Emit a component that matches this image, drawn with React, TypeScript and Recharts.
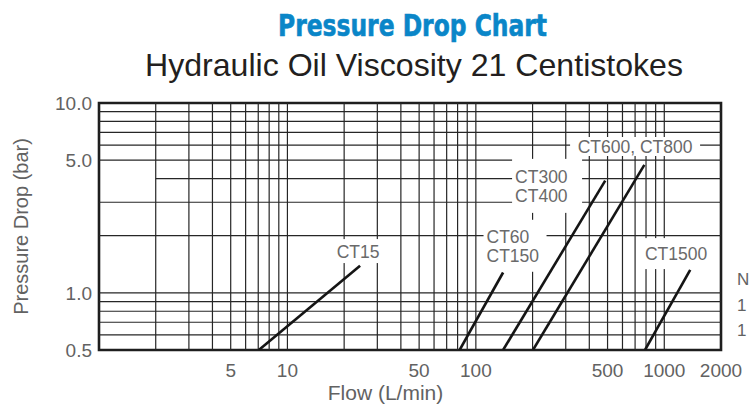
import React from 'react';
import { LineChart, Line, XAxis, YAxis, ReferenceLine, ReferenceArea, ReferenceDot } from 'recharts';

// ---- data ----
const xGridValues = [2, 3, 4, 5, 6, 7, 8, 9, 10, 20, 30, 40, 50, 60, 70, 80, 90, 100, 200, 300, 400, 500, 600, 700, 800, 900, 1000];
const yGridValues = [0.6, 0.7, 0.8, 0.9, 1, 2, 3, 5, 6, 7, 8, 9];
const yGridShortValues = [4]; // this grid line starts at a flow of 2
const xTickValues = [5, 10, 50, 100, 500, 1000, 2000];
const yTickValues = [0.5, 1, 5, 10];

const ct15 = [{ x: 7.05, y: 0.5 }, { x: 24.3, y: 1.39 }];
const ct60ct150 = [{ x: 82, y: 0.5 }, { x: 139.5, y: 1.28 }];
const ct300ct400 = [{ x: 139.5, y: 0.5 }, { x: 486, y: 3.9 }];
const ct600ct800 = [{ x: 201, y: 0.5 }, { x: 784, y: 4.72 }];
const ct1500 = [{ x: 790, y: 0.5 }, { x: 1373, y: 1.32 }];

const series = [
  { name: 'CT15', data: ct15 },
  { name: 'CT60, CT150', data: ct60ct150 },
  { name: 'CT300, CT400', data: ct300ct400 },
  { name: 'CT600, CT800', data: ct600ct800 },
  { name: 'CT1500', data: ct1500 },
];

const labelTexts = [['CT15'], ['CT60', 'CT150'], ['CT300', 'CT400'], ['CT600, CT800'], ['CT1500']];
// label anchors (data coordinates) and box sizes
const labelLayout = [
  { x: 23.7, y: 1.66, w: 46, h: 24, align: 'middle' },
  { x: 161.4, y: 1.77, w: 63, h: 52, align: 'start' },
  { x: 238.8, y: 3.66, w: 70, h: 54, align: 'start' },
  { x: 700, y: 5.9, w: 130, h: 19, align: 'middle' },
  { x: 1155, y: 1.61, w: 72, h: 31, align: 'middle' },
];

const FONT = '"Liberation Sans", Arial, Helvetica, sans-serif';
const GRID = '#262626';
const TEXT_GRAY = '#626262';
const LABEL_GRAY = '#6a6a6a';

function makeLabelShape(lines: string[], lay: any) {
  return (p: any) => {
    const cx = p.cx;
    const cy = p.cy;
    const left = cx - lay.w / 2;
    const top = cy - lay.h / 2;
    const n = lines.length;
    const baselines = n === 1 ? [cy + 6.5] : [cy - 3, cy + 16];
    return (
      <g>
        <rect x={left} y={top} width={lay.w} height={lay.h} fill="#ffffff" />
        {lines.map((t, i) => (
          <text
            key={i}
            x={lay.align === 'start' ? left + 3 : cx}
            y={baselines[i]}
            textAnchor={lay.align === 'start' ? 'start' : 'middle'}
            fontSize={17.5}
            fontFamily={FONT}
            fill={LABEL_GRAY}
          >
            {t}
          </text>
        ))}
      </g>
    );
  };
}

export default function App() {
  return (
    <div style={{ position: 'fixed', left: 0, top: 0, width: 749, height: 414, background: '#fff', overflow: 'hidden' }}>
      <LineChart
        width={749}
        height={414}
        margin={{ top: 103, right: 28, bottom: 34, left: 39 }}
      >
        <XAxis
          dataKey="x"
          type="number"
          scale="log"
          domain={[1, 2000]}
          allowDataOverflow
          ticks={xTickValues}
          height={30}
          axisLine={false}
          tickLine={false}
          tickSize={0}
          tickMargin={13.5}
          interval={0}
          tick={{ fontSize: 19, fill: TEXT_GRAY, fontFamily: FONT }}
        />
        <YAxis
          dataKey="y"
          type="number"
          scale="log"
          domain={[0.5, 10]}
          allowDataOverflow
          ticks={yTickValues}
          width={60}
          axisLine={false}
          tickLine={false}
          tickSize={0}
          tickMargin={7}
          interval={0}
          tickFormatter={(v: number) => v.toFixed(1)}
          tick={{ fontSize: 19, fill: TEXT_GRAY, fontFamily: FONT }}
        />
        {xGridValues.map((v) => (
          <ReferenceLine key={'vx' + v} x={v} stroke={GRID} strokeWidth={1.2} />
        ))}
        {yGridValues.map((v) => (
          <ReferenceLine key={'hy' + v} y={v} stroke={GRID} strokeWidth={1.2} />
        ))}
        {yGridShortValues.map((v) => (
          <ReferenceLine key={'hs' + v} segment={[{ x: 2, y: v }, { x: 2000, y: v }]} stroke={GRID} strokeWidth={1.2} />
        ))}
        <ReferenceArea x1={1} x2={2000} y1={0.5} y2={10} fill="none" fillOpacity={0} stroke="#1e1e1e" strokeWidth={2.6} />
        {labelTexts.map((lines, i) => (
          <ReferenceDot
            key={'lbl' + i}
            x={labelLayout[i].x}
            y={labelLayout[i].y}
            r={1}
            shape={makeLabelShape(lines, labelLayout[i])}
          />
        ))}
        {series.map((s) => (
          <Line
            key={s.name}
            name={s.name}
            data={s.data}
            dataKey="y"
            type="linear"
            stroke="#151515"
            strokeWidth={2.6}
            dot={false}
            activeDot={false}
            isAnimationActive={false}
          />
        ))}
      </LineChart>
      <svg width={749} height={414} style={{ position: 'absolute', left: 0, top: 0, pointerEvents: 'none' }}>
        <text
          x={278}
          y={36}
          fontFamily='"DejaVu Sans Condensed", "DejaVu Sans", sans-serif'
          fontWeight="bold"
          fontSize={31}
          fill="#0a86c8"
          stroke="#0a86c8"
          strokeWidth={0.6}
          textLength={269}
          lengthAdjust="spacingAndGlyphs"
        >
          Pressure Drop Chart
        </text>
        <text x={145} y={76} fontFamily={FONT} fontSize={32} fill="#231f20" textLength={538} lengthAdjust="spacingAndGlyphs">
          Hydraulic Oil Viscosity 21 Centistokes
        </text>
        <text
          transform="translate(28,226.5) rotate(-90)"
          textAnchor="middle"
          fontFamily={FONT}
          fontSize={20}
          fill={TEXT_GRAY}
        >
          Pressure Drop (bar)
        </text>
        <text x={385.5} y={400} textAnchor="middle" fontFamily={FONT} fontSize={21} fill={TEXT_GRAY}>
          Flow (L/min)
        </text>
        <text x={737} y={285} fontFamily={FONT} fontSize={17} fill={TEXT_GRAY}>Note:</text>
        <text x={737} y={311} fontFamily={FONT} fontSize={17} fill={TEXT_GRAY}>1 bar = 14.5 psi</text>
        <text x={737} y={336} fontFamily={FONT} fontSize={17} fill={TEXT_GRAY}>1 L/min = 0.264 gpm</text>
      </svg>
    </div>
  );
}
